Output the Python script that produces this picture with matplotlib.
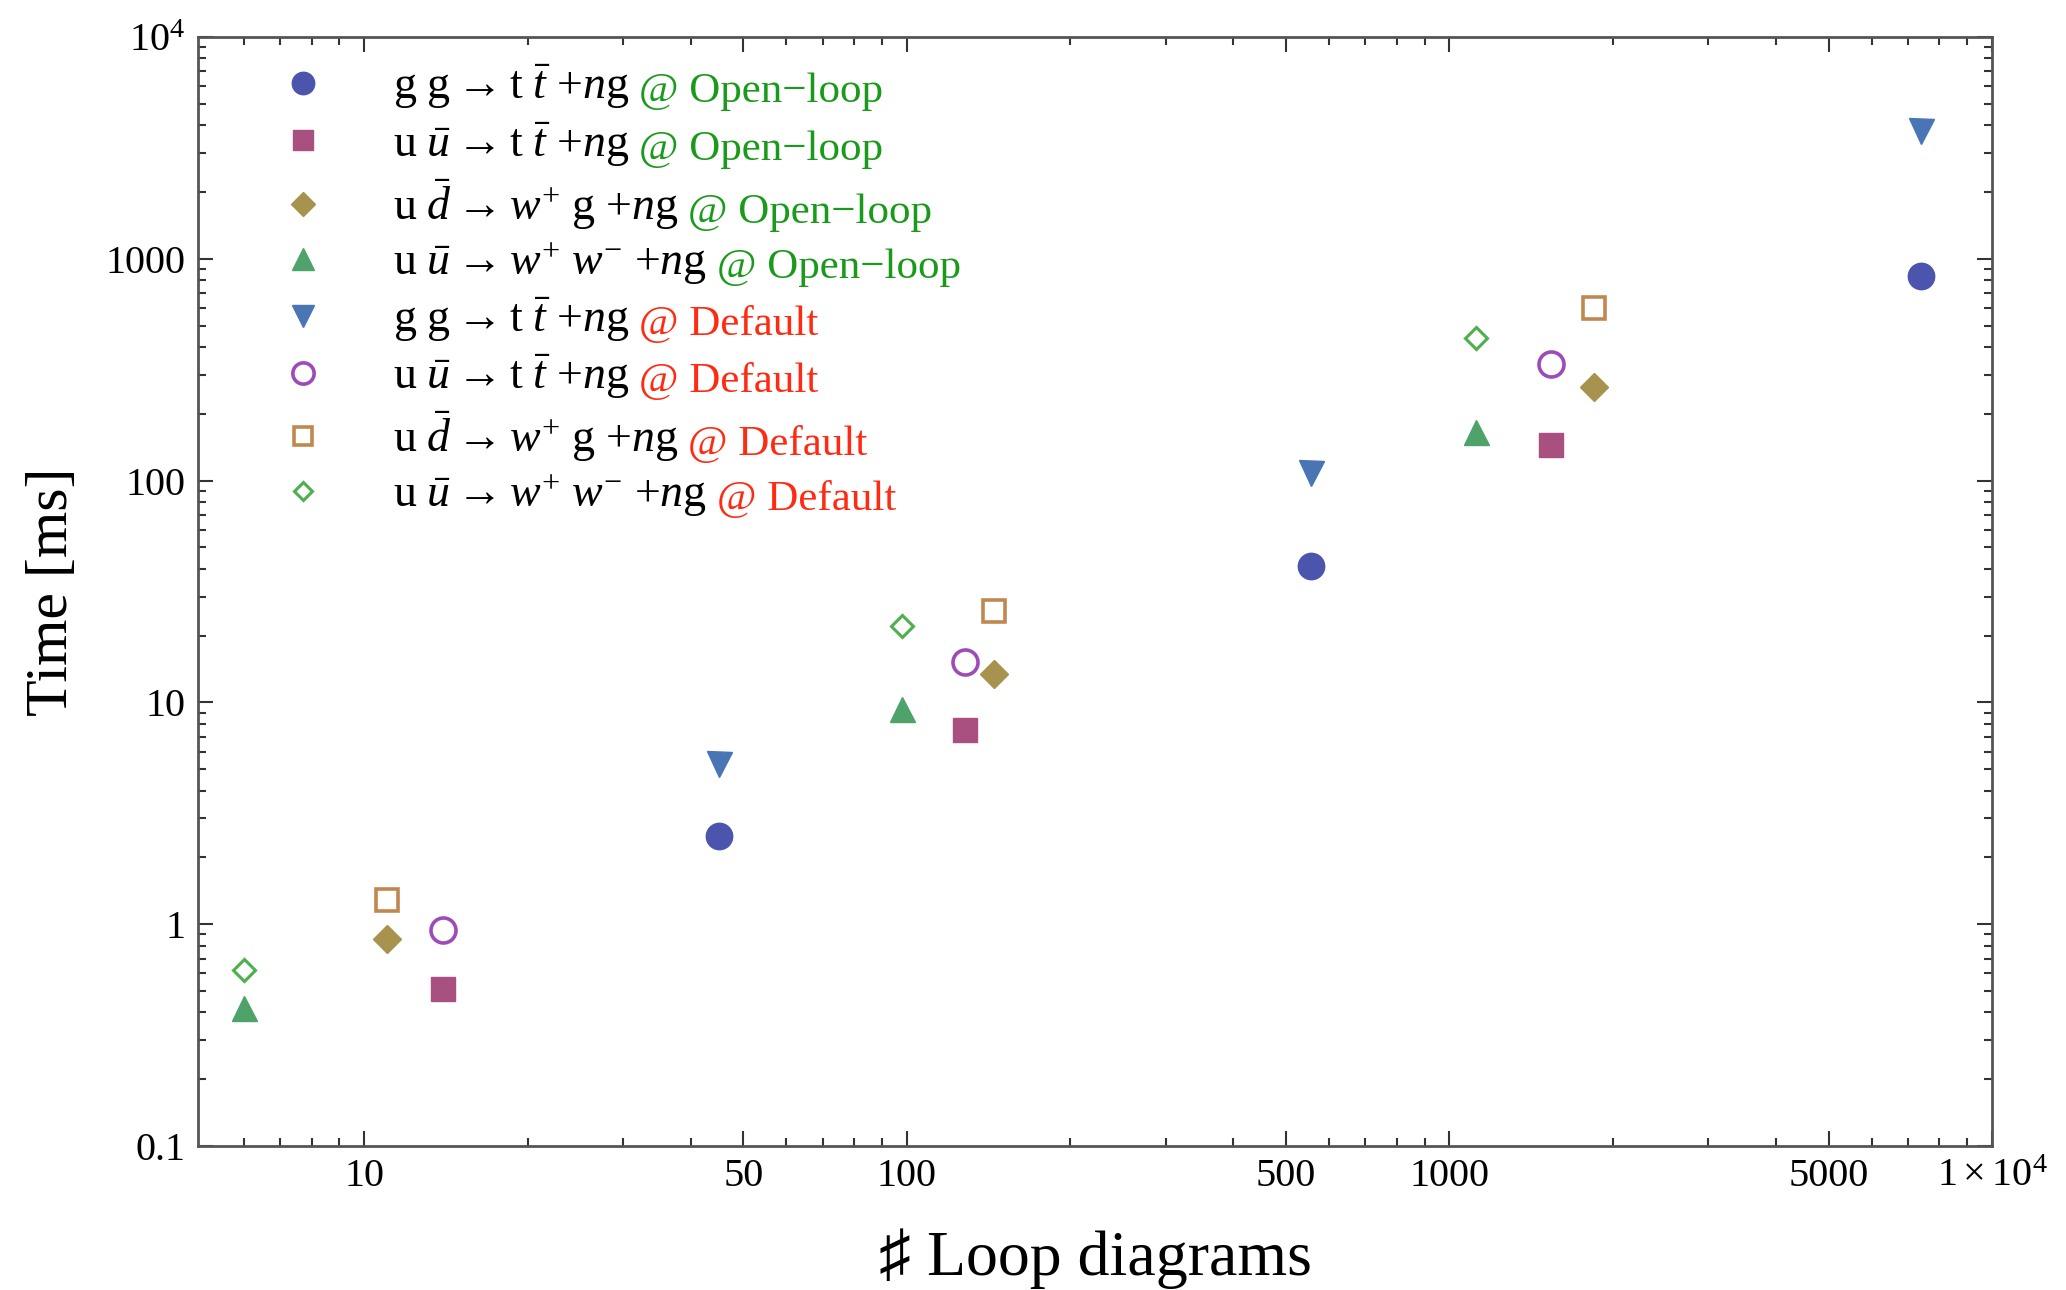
import matplotlib
matplotlib.use('Agg')
import matplotlib.pyplot as plt
from matplotlib.ticker import FixedLocator, FixedFormatter, NullFormatter

# ============================================================================
# FUENTES
# ============================================================================

plt.rcParams['font.family'] = ['Liberation Serif', 'DejaVu Serif']
plt.rcParams['mathtext.fontset'] = 'custom'
plt.rcParams['mathtext.rm'] = 'Liberation Serif'
plt.rcParams['mathtext.it'] = 'Liberation Serif:italic'
plt.rcParams['mathtext.bf'] = 'Liberation Serif:bold'

# ============================================================================
# DATOS
# ============================================================================

# Open-loop
x_gg_tt = [45, 556, 7400]
y_gg_tt_ol = [2.5, 41, 835]
x_uu_tt = [14, 128, 1540]
y_uu_tt_ol = [0.51, 7.5, 144]
x_ud_wg = [11, 145, 1850]
y_ud_wg_ol = [0.86, 13.4, 264]
x_uu_ww = [6, 98, 1120]
y_uu_ww_ol = [0.42, 9.3, 165]

# Default
y_gg_tt_def = [5.3, 108, 3775]
y_uu_tt_def = [0.94, 15.2, 337]
y_ud_wg_def = [1.28, 25.9, 600]
y_uu_ww_def = [0.62, 22, 438]

lab_gg_tt = r'$\mathrm{g\ g}\rightarrow\mathrm{t}\ \bar{t}\ {+}n\mathrm{g}$'
lab_uu_tt = r'$\mathrm{u}\ \bar{u}\rightarrow\mathrm{t}\ \bar{t}\ {+}n\mathrm{g}$'
lab_ud_wg = r'$\mathrm{u}\ \bar{d}\rightarrow w^{+}\ \mathrm{g}\ {+}n\mathrm{g}$'
lab_uu_ww = r'$\mathrm{u}\ \bar{u}\rightarrow w^{+}\ w^{-}\ {+}n\mathrm{g}$'

suf_ol = '@ Open−loop'
suf_def = '@ Default'

x_ticks = [10, 50, 100, 500, 1000, 5000, 10000]
x_tick_labels = ['10', '50', '100', '500', '1000', '5000', r'$1\times10^{4}$']
y_ticks = [0.1, 1, 10, 100, 1000, 10000]
y_tick_labels = ['0.1', '1', '10', '100', '1000', r'$10^{4}$']

# ============================================================================
# GRÁFICO
# ============================================================================

W, H = 2066, 1290
fig = plt.figure(figsize=(W / 100, H / 100), dpi=100)
ax = fig.add_axes([198 / W, 1 - 1146 / H, 1794 / W, 1109 / H])

series = [
    (x_gg_tt, y_gg_tt_ol, lab_gg_tt, dict(marker='o', ms=19, color='#4b55ad')),
    (x_uu_tt, y_uu_tt_ol, lab_uu_tt, dict(marker='s', ms=17, color='#a8507f')),
    (x_ud_wg, y_ud_wg_ol, lab_ud_wg, dict(marker='D', ms=14.5, color='#a8934e')),
    (x_uu_ww, y_uu_ww_ol, lab_uu_ww, dict(marker='^', ms=18, color='#4ea36a')),
    (x_gg_tt, y_gg_tt_def, lab_gg_tt, dict(marker='v', ms=18, color='#4a75b5')),
    (x_uu_tt, y_uu_tt_def, lab_uu_tt, dict(marker='o', ms=18, mfc='white', mec='#9c4cb8', mew=2.6)),
    (x_ud_wg, y_ud_wg_def, lab_ud_wg, dict(marker='s', ms=16, mfc='white', mec='#c0884f', mew=2.6)),
    (x_uu_ww, y_uu_ww_def, lab_uu_ww, dict(marker='D', ms=11, mfc='white', mec='#4cb04c', mew=2.2)),
]
sufijos = [suf_ol] * 4 + [suf_def] * 4
col_suf = ['#1a9a1a'] * 4 + ['#ff2a12'] * 4

for xs, ys, lab, estilo in series:
    ax.plot(xs, ys, linestyle='none', label=lab, **estilo)

ax.set_xscale('log')
ax.set_yscale('log')
ax.set_xlim(4.94, 10000)
ax.set_ylim(0.1, 10000)

ax.xaxis.set_major_locator(FixedLocator(x_ticks))
ax.xaxis.set_major_formatter(FixedFormatter(x_tick_labels))
x_minor = [m * 10 ** e for e in range(0, 4) for m in range(2, 10) if m != 5]
ax.xaxis.set_minor_locator(FixedLocator([v for v in x_minor if 4.9 < v < 10000]))
ax.xaxis.set_minor_formatter(NullFormatter())

ax.yaxis.set_major_locator(FixedLocator(y_ticks))
ax.yaxis.set_major_formatter(FixedFormatter(y_tick_labels))
y_minor = [m * 10.0 ** e for e in range(-1, 4) for m in range(2, 10)]
ax.yaxis.set_minor_locator(FixedLocator(y_minor))
ax.yaxis.set_minor_formatter(NullFormatter())

ax.tick_params(which='both', direction='in', top=True, right=True, color='#333333', width=1.5)
ax.tick_params(which='major', length=11, labelsize=29, pad=9)
ax.tick_params(which='minor', length=6)
for sp in ax.spines.values():
    sp.set_linewidth(2)
    sp.set_color('#555555')

ax.set_xlabel('♯ Loop diagrams', fontsize=46)
ax.set_ylabel('Time [ms]', fontsize=43)
ax.xaxis.set_label_coords(0.5, -0.074)
ax.yaxis.set_label_coords(-0.066, 0.5)

leg = ax.legend(loc='upper left', bbox_to_anchor=(0.046, 0.977), frameon=False,
                fontsize=33, markerscale=0.85, handlelength=1.0, handletextpad=1.45,
                labelspacing=0.18, borderpad=0, borderaxespad=0, numpoints=1)

# texto coloreado "@ ..." a continuación de cada entrada de la leyenda
fig.canvas.draw()
for txt, suf, col in zip(leg.get_texts(), sufijos, col_suf):
    bb = txt.get_window_extent()
    fig.text((bb.x1 + 10) / W, bb.y0 / H, suf, ha='left', va='bottom',
             fontsize=31, color=col)

fig.savefig('out.png', dpi=100)
